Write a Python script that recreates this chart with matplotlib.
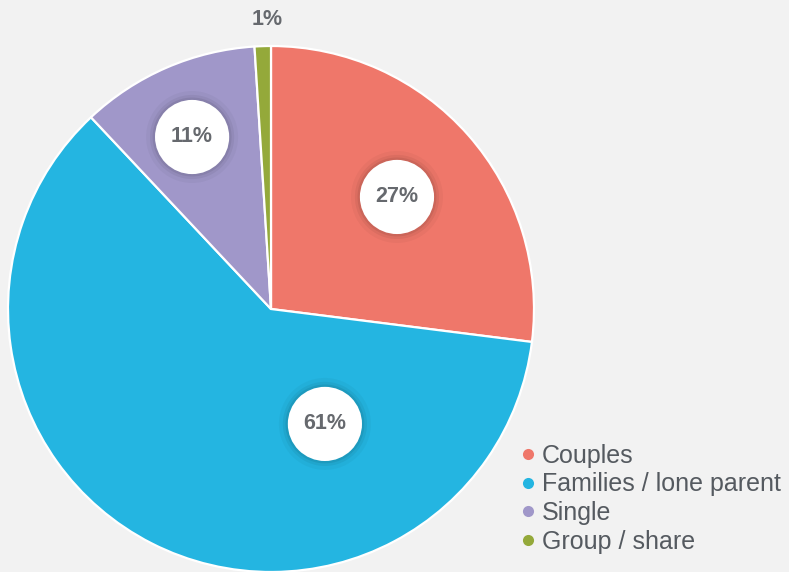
import matplotlib.pyplot as plt
from matplotlib.lines import Line2D
from matplotlib.patches import Circle

plt.rcParams['font.family'] = ['Liberation Sans', 'DejaVu Sans']

categories = ['Couples', 'Families / lone parent', 'Single', 'Group / share']
shares = [27, 61, 11, 1]
colors = ['#ef776a', '#24b5e1', '#a097c9', '#94a93a']
# label centres (data units, pie radius = 1)
label_pos = [(0.479, 0.426), (0.205, -0.437), (-0.300, 0.654), (-0.015, 1.099)]
bubble = [True, True, True, False]

W, H = 789, 572
cx, cy, r = 271, 309, 263
fig = plt.figure(figsize=(W / 100, H / 100), dpi=100, facecolor='#f2f2f2')
ax = fig.add_axes([0, 0, 1, 1])
ax.set_facecolor('#f2f2f2')

ax.pie(shares, colors=colors, startangle=90, counterclock=False,
       wedgeprops=dict(edgecolor='white', linewidth=1.6))
ax.set_xlim(-cx / r, (W - cx) / r)
ax.set_ylim((cy - H) / r, cy / r)
ax.set_aspect('equal')
ax.axis('off')

txt = '#66696e'
for val, (x, y), b in zip(shares, label_pos, bubble):
    if b:
        for k, a in [(0.175, 0.03), (0.16, 0.05), (0.15, 0.07)]:
            ax.add_patch(Circle((x, y), k, facecolor='#000000', alpha=a,
                                edgecolor='none', zorder=3))
        ax.add_patch(Circle((x, y), 0.141, facecolor='white', edgecolor='none', zorder=4))
    ax.text(x, y, f'{val}%', ha='center', va='center', fontsize=15.5,
            fontweight='bold', color=txt, zorder=5)

handles = [Line2D([], [], marker='o', linestyle='', markersize=8,
                  markerfacecolor=c, markeredgecolor='none') for c in colors]
ax.legend(handles, categories, loc='upper left',
          bbox_to_anchor=(509 / W, 1 - 431 / H), frameon=False,
          fontsize=18, labelcolor='#555a60', handlelength=0.5,
          handletextpad=0.3, labelspacing=0.19, borderpad=0)

fig.savefig('out.png', dpi=100, facecolor=fig.get_facecolor())
